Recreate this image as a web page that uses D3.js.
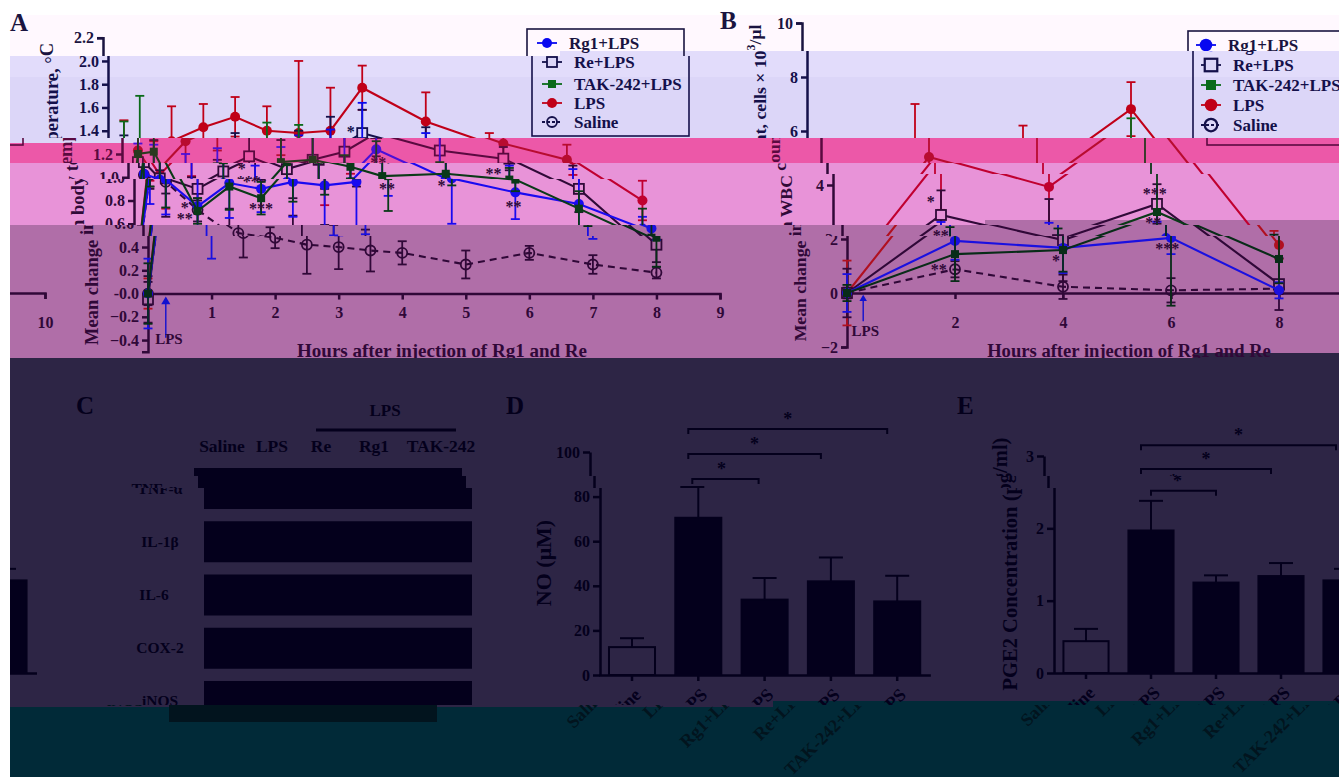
<!DOCTYPE html>
<html><head><meta charset="utf-8">
<script src="https://cdn.jsdelivr.net/npm/d3@7/dist/d3.min.js"></script>
<style>
html,body{margin:0;padding:0;background:#fff;overflow:hidden}
svg{display:block}
text{font-family:"Liberation Serif",serif;font-weight:bold}
</style></head><body><svg id="chart" width="1339" height="777"></svg>
<script>
// ---------- Panel A: temperature ----------
const hoursA=[0,.25,.5,1,1.5,2,2.5,3,3.5,4,5,6,7,8];
const tempRg1=[0,1.03,.98,.75,.95,.90,.96,.93,.96,1.24,.99,.87,.77,.56];
const tempRg1Err=[.3,.26,.3,.45,.3,.2,.3,.43,.45,.4,.39,.23,.3,.1];
const tempRe=[-.05,1.13,.99,.90,1.05,1.18,1.07,1.15,1.22,1.38,1.23,1.16,.90,.42];
const tempReErr=[.2,.23,.33,.1,.1,.2,.25,.25,.3,.2,.2,.1,.2,.15];
const tempTak=[0,1.20,1.22,.71,.92,.82,1.13,1.15,1.09,1.01,1.03,.98,.73,.48];
const tempTakErr=[.26,.28,.48,.11,.2,.14,.34,.3,.1,.3,.1,.1,.15,.25];
const tempLps=[0,1.23,1.02,1.31,1.43,1.52,1.40,1.38,1.40,1.77,1.48,1.29,1.15,.80];
const tempLpsErr=[.13,.26,.29,.3,.2,.17,.21,.62,.37,.19,.25,.09,.13,.17];
const tempSaline=[0,1.02,.96,.72,.52,.48,.42,.40,.37,.35,.25,.35,.25,.18];
const tempSalineErr=[.1,.1,.1,.1,.21,.09,.25,.19,.18,.1,.12,.06,.08,.05];
const tempTicks=[-.4,-.2,0,.2,.4,.6,.8,1,1.2,1.4,1.6,1.8,2,2.2];
const tempStars=[[3.82,1.40,"*"],[.80,.65,"**"],[.80,.74,"*"],[1.79,1.08,"*"],[1.9,.97,"***"],[2,.735,"***"],[4.03,1.13,"**"],[3.98,.91,"**"],[4.84,.93,"*"],[5.75,1.04,"**"],[5.97,.75,"**"]];
// ---------- Panel B: WBC ----------
const hoursB=[0,2,4,6,8];
const wbcRg1=[0,1.93,1.67,2.04,.1];
const wbcRg1Err=[.7,.7,.93,.6,.3];
const wbcRe=[0,2.89,1.96,3.3,.33];
const wbcReErr=[.9,.91,1.52,.73,.96];
const wbcTak=[0,1.44,1.59,3.0,1.26];
const wbcTakErr=[.3,1.0,.8,3.47,.9];
const wbcLps=[0,5.04,3.93,6.81,1.78];
const wbcLpsErr=[1.2,1.96,2.27,1.0,.52];
const wbcSaline=[0,.88,.23,.1,.16];
const wbcSalineErr=[.2,.3,.45,.45,.2];
const wbcTicks=[-2,0,2,4,6,8,10];
const wbcHourTicks=[2,4,6,8,10];
const wbcStars=[[1.81,3.41,"*"],[1.83,2.15,"**"],[1.7,.89,"**"],[3.87,1.22,"*"],[5.96,3.7,"***"],[5.93,2.63,"**"],[5.93,1.67,"***"]];
const seriesNames=["Rg1+LPS","Re+LPS","TAK-242+LPS","LPS","Saline"];
// ---------- Panel C ----------
const blotTargets=["TNF-α","IL-1β","IL-6","COX-2","iNOS"];
const blotLanes=["Saline","LPS","Re","Rg1","TAK-242"];
// ---------- Panels D and E ----------
const barGroups=["Saline","LPS","Rg1+LPS","Re+LPS","TAK-242+LPS"];
const noValues=[12.5,70.5,33.8,42,33];
const noErrors=[4,13.8,9.7,10.7,11.5];
const noTicks=[0,20,40,60,80,100];
const noBrackets=[[1,2,87.9],[1,3,99.1],[1,4,110.3]];
const pgeValues=[.44,1.97,1.25,1.34,1.28];
const pgeErrors=[.17,.41,.1,.18,.16];
const pgeTicks=[0,1,2,3];
const pgeBrackets=[[1,2,2.52],[1,3,2.82],[1,4,3.15]];

const FS=16;
const svg=d3.select("#chart");
const defs=svg.append("defs");

// palettes of the tinted horizontal strips
const tints={
 pale:{bg:"#fff8fe",ink:"#1a1440",red:"#c00012",green:"#0a6a18",blue:"#0808f0"},
 lav:{bg:"#dcd6f8",ink:"#14104a",red:"#c00018",green:"#0a6a1a",blue:"#0a0aee"},
 pink:{bg:"#ec58a8",ink:"#5a0a40",red:"#b80c30",green:"#2a3a20",blue:"#4a10d8"},
 orchid:{bg:"#e893d8",ink:"#300a38",red:"#c00030",green:"#0a3a18",blue:"#1a0af0"},
 mauve:{bg:"#b06ea8",ink:"#300838",red:"#b01020",green:"#082c18",blue:"#1a10e0"},
 dark:{bg:"#2d2545",ink:"#04001c"},
 teal:{bg:"#012a38",ink:"#02141e"}
};
svg.append("rect").attr("width",1339).attr("height",777).attr("fill","#fff");
const strips=[
 [10,15,550,41,"#fff8fe"],[560,15,779,36,"#fff8fe"],
 [10,56,550,21,"#e2dcfb"],[560,51,779,26,"#e2dcfb"],
 [10,77,1329,66,"#dcd6f8"],
 [10,143,130,20,"#ec58a8"],[140,138,1199,25,"#ec58a8"],
 [10,163,1329,62,"#e893d8"],[985,220,354,5,"#b06ea8"],
 [10,225,1329,133,"#b06ea8"],[1194,353,145,5,"#2d2545"],
 [10,358,1329,349,"#2d2545"],
 [773,701,566,6,"#012a38"],[10,707,1329,70,"#012a38"]];
svg.selectAll("rect.strip").data(strips).join("rect").attr("class","strip")
 .attr("x",d=>d[0]).attr("y",d=>d[1]).attr("width",d=>d[2]).attr("height",d=>d[3]).attr("fill",d=>d[4]);

const seriesStyle=[
 {key:"blue",shape:"circle"},{key:null,shape:"square"},{key:"green",shape:"smallsquare"},
 {key:"red",shape:"circle"},{key:null,shape:"open",dash:"7 5"}];
const colorOf=s=>s.key?`var(--${s.key})`:"currentColor";

function marker(sel,s){
 const c=colorOf(s);
 if(s.shape==="circle") sel.append("circle").attr("r",5).style("fill",c);
 if(s.shape==="open") sel.append("circle").attr("r",5).style("fill","none").style("stroke",c).attr("stroke-width",1.8);
 if(s.shape==="square") sel.append("rect").attr("x",-5).attr("y",-5).attr("width",10).attr("height",10).style("fill","var(--bg)").style("stroke",c).attr("stroke-width",1.8);
 if(s.shape==="smallsquare") sel.append("rect").attr("x",-4).attr("y",-4).attr("width",8).attr("height",8).style("fill",c);
}
function styleAxis(g,w){
 g.selectAll("path.domain,line").attr("stroke-width",w);
 g.selectAll("text").style("font-size",FS+"px").style("font-family",'"Liberation Serif",serif').style("font-weight","bold");
}
function lineChart(id,hours,means,errs,x,y,yTicks,yFmt,hourTicks,tickY,stars,capW){
 const g=defs.append("g").attr("id",id);
 g.append("g").attr("transform",`translate(${x(0)},0)`)
  .call(d3.axisLeft(y).tickValues(yTicks).tickFormat(yFmt).tickSizeOuter(0).tickSize(6).tickPadding(3))
  .call(a=>styleAxis(a,2.5));
 const xa=g.append("g").attr("transform",`translate(0,${y(0)})`)
  .call(d3.axisBottom(x).tickValues(hourTicks).tickFormat(d3.format("d")).tickSizeOuter(0).tickSize(6))
  .call(a=>styleAxis(a,2.5));
 xa.selectAll("text").attr("y",tickY).attr("dy",0);
 [3,4,1,0,2].forEach(i=>{
  const s=seriesStyle[i],c=colorOf(s),data=hours.map((h,k)=>({h,m:means[i][k],e:errs[i][k]}));
  const sg=g.append("g");
  const eb=sg.selectAll("g.eb").data(data).join("g").attr("class","eb");
  eb.append("line").attr("x1",d=>x(d.h)).attr("x2",d=>x(d.h)).attr("y1",d=>y(d.m-d.e)).attr("y2",d=>y(d.m+d.e));
  eb.append("line").attr("x1",d=>x(d.h)-capW).attr("x2",d=>x(d.h)+capW).attr("y1",d=>y(d.m+d.e)).attr("y2",d=>y(d.m+d.e));
  eb.append("line").attr("x1",d=>x(d.h)-capW).attr("x2",d=>x(d.h)+capW).attr("y1",d=>y(d.m-d.e)).attr("y2",d=>y(d.m-d.e));
  eb.selectAll("line").style("stroke",c).attr("stroke-width",1.8);
  sg.append("path").attr("d",d3.line().x(d=>x(d.h)).y(d=>y(d.m))(data)).attr("fill","none").style("stroke",c).attr("stroke-width",2.1).attr("stroke-dasharray",s.dash||null);
  const mk=sg.selectAll("g.mk").data(data).join("g").attr("class","mk").attr("transform",d=>`translate(${x(d.h)},${y(d.m)})`);
  mk.each(function(){marker(d3.select(this),s);});
 });
 g.selectAll("text.star").data(stars).join("text").attr("class","star")
  .attr("x",d=>x(d[0])).attr("y",d=>y(d[1])+6).attr("text-anchor","middle").style("font-size","16px").style("fill","currentColor").text(d=>d[2]);
 return g;
}
function legend(g,left,top,w,h,textX,symX,ys,fs,ms){
 g.append("rect").attr("x",left).attr("y",top).attr("width",w).attr("height",h).attr("fill","none").style("stroke","currentColor").attr("stroke-width",1.6);
 const yPos=d3.scaleOrdinal().domain(seriesNames).range(ys);
 seriesNames.forEach((n,i)=>{
  const s=seriesStyle[i],c=colorOf(s),yy=yPos(n);
  g.append("line").attr("x1",symX-10).attr("x2",symX+10).attr("y1",yy).attr("y2",yy).style("stroke",c).attr("stroke-width",1.8).attr("stroke-dasharray",s.dash?"3 2":null);
  marker(g.append("g").attr("transform",`translate(${symX},${yy}) scale(${ms})`),s);
  g.append("text").attr("x",textX).attr("y",yy+5.5).style("font-size",fs+"px").style("fill","currentColor").text(n);
 });
}
// Panel A
const xA=d3.scaleLinear().domain([0,9]).range([148,720]);
const yA=d3.scaleLinear().domain([-.5,2.2]).range([351.7,37.7]);
const gA=lineChart("panelA",hoursA,[tempRg1,tempRe,tempTak,tempLps,tempSaline],[tempRg1Err,tempReErr,tempTakErr,tempLpsErr,tempSalineErr],xA,yA,tempTicks,v=>v===0?"-0.0":d3.format(".1f")(v),[1,2,3,4,5,6,7,8,9],24,tempStars,4.5);
gA.append("text").attr("transform","translate(98,194) rotate(-90)").attr("text-anchor","middle").style("font-size","18.5px").style("fill","currentColor").text("Mean change in body temperature, °C");
gA.append("text").attr("x",442).attr("y",357).attr("text-anchor","middle").style("font-size","19px").style("fill","currentColor").text("Hours after injection of Rg1 and Re");
gA.append("line").attr("x1",xA(.28)).attr("x2",xA(.28)).attr("y1",yA(-.38)).attr("y2",yA(-.04)).style("stroke","#1010d0").attr("stroke-width",1.4);
gA.append("path").attr("d",d3.symbol(d3.symbolTriangle,36)()).attr("transform",`translate(${xA(.28)},${yA(-.07)})`).style("fill","#1010d0");
gA.append("text").attr("x",xA(.33)).attr("y",yA(-.43)).attr("text-anchor","middle").style("font-size","15px").style("fill","currentColor").text("LPS");
legend(gA,572,29,157,107,614,592,[43,62,84,103,122],17,1);
// Panel B
const xB=d3.scaleLinear().domain([0,10]).range([847,1387]);
const yB=d3.scaleLinear().domain([-2,10]).range([347,23]);
const gB=lineChart("panelB",hoursB,[wbcRg1,wbcRe,wbcTak,wbcLps,wbcSaline],[wbcRg1Err,wbcReErr,wbcTakErr,wbcLpsErr,wbcSalineErr],xB,yB,wbcTicks,d3.format("d"),wbcHourTicks,35,wbcStars,4.5);
const tB=gB.append("text").attr("transform","translate(806,183) rotate(-90)").attr("text-anchor","middle").style("font-size","17.7px").style("fill","currentColor");
tB.append("tspan").text("Mean change in WBC count, cells × 10");
tB.append("tspan").attr("dy",-6).style("font-size","12px").text("3");
tB.append("tspan").attr("dy",6).text("/μl");
gB.append("text").attr("x",1129).attr("y",357).attr("text-anchor","middle").style("font-size","18.6px").style("fill","currentColor").text("Hours after injection of Rg1 and Re");
gB.append("line").attr("x1",xB(.3)).attr("x2",xB(.3)).attr("y1",yB(-1.05)).attr("y2",yB(-.15)).style("stroke","#1010d0").attr("stroke-width",1.4);
gB.append("path").attr("d",d3.symbol(d3.symbolTriangle,24)()).attr("transform",`translate(${xB(.3)},${yB(-.22)})`).style("fill","#1010d0");
gB.append("text").attr("x",xB(.34)).attr("y",yB(-1.6)).attr("text-anchor","middle").style("font-size","15px").style("fill","currentColor").text("LPS");
legend(gB,1233,31,158,114,1273,1251,[45,65,85,105,125],17,1.25);

// Lower panels
const gL=defs.append("g").attr("id","lower");
gL.append("text").attr("x",86).attr("y",414).style("font-size","25px").style("fill","currentColor").text("C");
gL.append("text").attr("x",516).attr("y",414).style("font-size","25px").style("fill","currentColor").text("D");
gL.append("text").attr("x",967).attr("y",414).style("font-size","25px").style("fill","currentColor").text("E");
// blots
const blotY=d3.scaleBand().domain(blotTargets).range([468,722]).paddingInner(.23).paddingOuter(0);
const laneX=d3.scaleOrdinal().domain(blotLanes).range([232,282,331,384,451]);
gL.append("text").attr("x",395).attr("y",416).attr("text-anchor","middle").style("font-size","17px").style("fill","currentColor").text("LPS");
gL.append("line").attr("x1",326).attr("x2",466).attr("y1",430).attr("y2",430).style("stroke","currentColor").attr("stroke-width",3);
gL.selectAll("text.lane").data(blotLanes).join("text").attr("class","lane").attr("x",d=>laneX(d)).attr("y",452).attr("text-anchor","middle").style("font-size","17.5px").style("fill","currentColor").text(d=>d);
gL.selectAll("rect.blot").data(blotTargets).join("rect").attr("class","blot").attr("x",204).attr("width",268).attr("y",d=>blotY(d)).attr("height",blotY.bandwidth()).style("fill","currentColor");
gL.selectAll("text.target").data(blotTargets).join("text").attr("class","target").attr("x",d=>d==="IL-6"?154:160).attr("y",d=>blotY(d)+blotY.bandwidth()/2+5).attr("text-anchor","middle").style("font-size","15.5px").style("fill","currentColor").text(d=>d);
function barPanel(xr,y,vals,errs,ticks,brackets,labelX,labelY,label,spineX,fsL){
 const x=d3.scaleBand().domain(barGroups).range(xr).paddingInner(.306).paddingOuter(.153);
 gL.append("g").attr("transform",`translate(${spineX},0)`).call(d3.axisLeft(y).tickValues(ticks).tickFormat(d3.format("d")).tickSize(7).tickSizeOuter(0).tickPadding(3)).call(a=>styleAxis(a,2.5));
 const ax=gL.append("g").attr("transform",`translate(0,${y(0)})`).call(d3.axisBottom(x).tickSize(6).tickSizeOuter(0)).call(a=>styleAxis(a,2.5));
 ax.selectAll("text").attr("y",0).attr("dy",0).attr("text-anchor","end").style("font-size","18px").attr("transform","translate(10,21) rotate(-45)");
 const data=barGroups.map((n,i)=>({n,v:vals[i],e:errs[i],i}));
 const c=d=>x(d.n)+x.bandwidth()/2;
 gL.selectAll(null).data(data).join("line").attr("x1",c).attr("x2",c).attr("y1",d=>y(d.v)).attr("y2",d=>y(d.v+d.e)).style("stroke","currentColor").attr("stroke-width",2);
 gL.selectAll(null).data(data).join("line").attr("x1",d=>c(d)-12).attr("x2",d=>c(d)+12).attr("y1",d=>y(d.v+d.e)).attr("y2",d=>y(d.v+d.e)).style("stroke","currentColor").attr("stroke-width",2);
 gL.selectAll(null).data(data).join("rect").attr("x",d=>x(d.n)).attr("width",x.bandwidth()).attr("y",d=>y(d.v)).attr("height",d=>y(0)-y(d.v))
  .style("fill",d=>d.i===0?"var(--bg)":"currentColor").style("stroke","currentColor").attr("stroke-width",2);
 brackets.forEach(b=>{
  const x0=x(barGroups[b[0]])+x.bandwidth()/2,x1=x(barGroups[b[1]])+x.bandwidth()/2,yy=y(b[2]);
  gL.append("path").attr("d",d3.line()([[x0,yy+5],[x0,yy],[x1,yy],[x1,yy+5]])).attr("fill","none").style("stroke","currentColor").attr("stroke-width",2);
  gL.append("text").attr("x",(x0+x1)/2).attr("y",yy-4).attr("text-anchor","middle").style("font-size","18px").style("fill","currentColor").text("*");
 });
 gL.append("text").attr("transform",`translate(${labelX},${labelY}) rotate(-90)`).attr("text-anchor","middle").style("font-size",fsL+"px").style("fill","currentColor").text(label);
}
const yD=d3.scaleLinear().domain([0,100]).range([675,452]);
barPanel([598.85,930.35],yD,noValues,noErrors,noTicks,noBrackets,551,563,"NO (μM)",600,22);
const yE=d3.scaleLinear().domain([0,3]).range([673,456]);
barPanel([1053.5,1378.5],yE,pgeValues,pgeErrors,pgeTicks,pgeBrackets,1017,564,"PGE2 Concentration (pg/ml)",1054,20.5);

// Horizontally displaced strips of the picture
let clipN=0;
function placeRows(id,rows,wrap){
 rows.forEach(r=>{
  const t=tints[r[3]];
  const noWrap=r[4]===false;
  [[10,1329,r[2]],...(wrap&&!noWrap?[[10,48,r[2]-wrap]]:[])].forEach(p=>{
   const cid="c"+(clipN++);
   defs.append("clipPath").attr("id",cid).append("rect").attr("x",p[0]).attr("y",r[0]).attr("width",p[1]).attr("height",r[1]-r[0]);
   svg.append("g").attr("clip-path",`url(#${cid})`).append("use").attr("href","#"+id).attr("transform",`translate(${p[2]},0)`)
    .style("color",t.ink).style("--bg",t.bg).style("--red",t.red||t.ink).style("--green",t.green||t.ink).style("--blue",t.blue||t.ink);
  });
 });
}
const stripRowsA=[[15,56,-45,"pale"],[56,138,-40,"lav"],[138,163,-26,"pink"],[163,179,-20,"orchid"],[179,225,-14,"orchid"],[225,236,-5,"mauve"],[236,358,0,"mauve"]];
const stripRowsB=[[15,51,-45,"pale"],[51,138,-40,"lav"],[138,163,-26,"pink"],[163,174,-20,"orchid"],[174,225,-14,"orchid"],[225,236,-5,"mauve"],[236,358,0,"mauve"]];
placeRows("panelA",stripRowsA,0);
placeRows("panelB",stripRowsB,1342);
placeRows("lower",[[358,476,-10,"dark",false],[476,488,-6,"dark",false],[488,682,0,"dark"],[682,705,0,"dark",false],[705,777,-35,"teal",false]],1342);
svg.append("text").attr("x",10).attr("y",31).style("font-size","25px").style("fill","#1a1440").text("A");
svg.append("text").attr("x",720).attr("y",29).style("font-size","25px").style("fill","#1a1440").text("B");
</script></body></html>
